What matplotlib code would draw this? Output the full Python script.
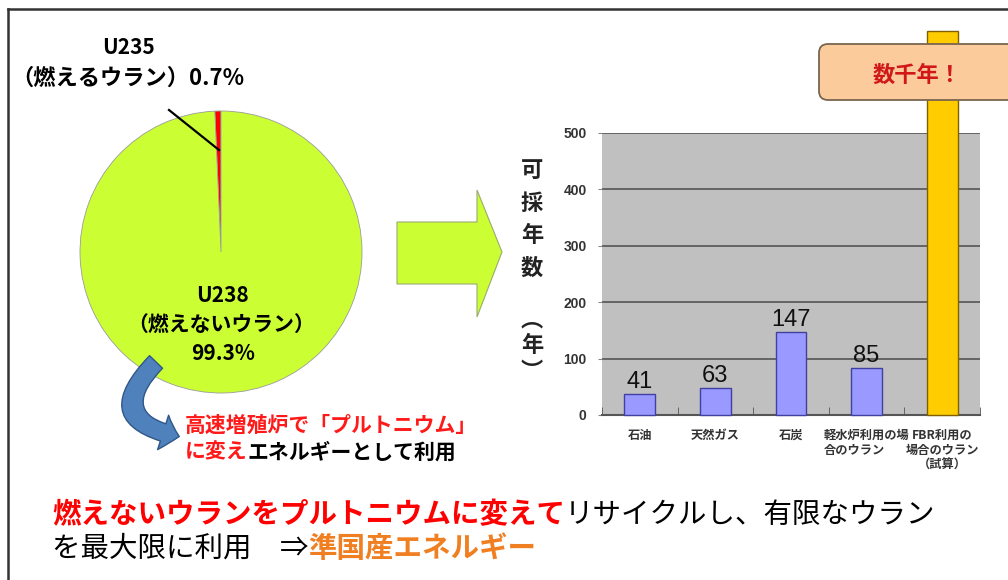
import matplotlib
matplotlib.use("Agg")
import matplotlib.pyplot as plt
from matplotlib.patches import FancyArrowPatch, FancyBboxPatch, Polygon
from matplotlib.lines import Line2D
from matplotlib.transforms import ScaledTranslation

plt.rcParams['font.family'] = ['Noto Sans CJK JP', 'DejaVu Sans']

# ---- data ----
pie_labels = ["U235", "U238"]
pie_shares = [0.7, 99.3]
pie_colors = ["#FF0000", "#CCFF33"]

categories = ["石油", "天然ガス", "石炭", "軽水炉利用の場\n合のウラン", "FBR利用の\n場合のウラン\n（試算）"]
bar_values = [37, 48, 147, 83, 680]          # heights as drawn in the picture
bar_labels = ["41", "63", "147", "85", ""]   # printed data labels
bar_colors = ["#9999FF", "#9999FF", "#9999FF", "#9999FF", "#FFCC00"]
yticks = [0, 100, 200, 300, 400, 500]

W, H = 1008, 580
fig = plt.figure(figsize=(W / 100, H / 100), dpi=100)
fig.patch.set_facecolor("white")

def rect(x0, y0, x1, y1):
    return [x0 / W, 1 - y1 / H, (x1 - x0) / W, (y1 - y0) / H]

# ---- pie ----
cx, cy, r = 221, 252, 141
ax_pie = fig.add_axes(rect(cx - r, cy - r, cx + r, cy + r))
ax_pie.pie(pie_shares, colors=pie_colors, startangle=90, counterclock=True,
           wedgeprops=dict(edgecolor="#9a9a9a", linewidth=0.6))
ax_pie.set_xlim(-1, 1)
ax_pie.set_ylim(-1, 1)
ax_pie.set_axis_off()

# ---- bar chart ----
ax = fig.add_axes(rect(602, 133, 980, 415))
ax.set_facecolor("#C0C0C0")
xs = list(range(len(categories)))
bars = ax.bar(xs, bar_values, width=0.41, color=bar_colors,
              edgecolor=["#4040A0"] * 4 + ["#806000"], linewidth=1.0, zorder=3)
for b in bars:
    b.set_clip_on(False)
for x, v, lab in zip(xs, bar_values, bar_labels):
    if lab:
        ax.text(x, v + 2, lab, ha="center", va="bottom", fontsize=17,
                family="Liberation Sans", color="#111111", zorder=4)
ax.set_xlim(-0.5, len(categories) - 0.5)
ax.set_ylim(0, 500)
ax.set_yticks(yticks)
ax.set_yticklabels([str(t) for t in yticks], fontsize=10, fontweight="bold",
                   color="#333333", family="Liberation Sans")
ax.yaxis.grid(True, color="#555555", linewidth=1.2, zorder=1)
ax.set_axisbelow(True)
ax.tick_params(axis="y", length=3, color="#888888", pad=8)
ax.set_xticks(xs)
ax.set_xticklabels(categories, fontsize=8.8, fontweight="bold", color="#333333",
                   linespacing=1.2)
xlabels = ax.get_xticklabels()
for lbl, ma in zip(xlabels, ["center", "center", "center", "left", "center"]):
    lbl.set_multialignment(ma)
xlabels[3].set_transform(xlabels[3].get_transform() + ScaledTranslation(0.03, 0, fig.dpi_scale_trans))
xlabels[4].set_transform(xlabels[4].get_transform() + ScaledTranslation(0.16, 0, fig.dpi_scale_trans))
ax.tick_params(axis="x", length=0, pad=10)
ax.set_xticks([i - 0.5 for i in range(len(categories) + 1)], minor=True)
ax.tick_params(axis="x", which="minor", direction="in", length=6, color="#555555")
for s in ["top", "right", "left"]:
    ax.spines[s].set_visible(False)
ax.spines["bottom"].set_color("#555555")
ax.spines["bottom"].set_linewidth(1.5)

# ---- overlay (pixel coordinates) ----
ov = fig.add_axes([0, 0, 1, 1])
ov.set_xlim(0, W)
ov.set_ylim(H, 0)
ov.set_axis_off()
ov.patch.set_alpha(0)

# frame
ov.add_line(Line2D([8, W], [9, 9], color="#333333", linewidth=1.8))
ov.add_line(Line2D([8, 8], [9, H], color="#333333", linewidth=1.8))

# pie labels
ov.text(128, 48, pie_labels[0], ha="center", va="center", fontsize=15, fontweight="bold")
ov.text(128, 78, "（燃えるウラン）0.7%", ha="center", va="center", fontsize=16, fontweight="bold")
ov.add_line(Line2D([169, 219], [110, 150], color="black", linewidth=1.6))
ov.text(223, 295, pie_labels[1], ha="center", va="center", fontsize=15, fontweight="bold")
ov.text(221, 325, "（燃えないウラン）", ha="center", va="center", fontsize=15, fontweight="bold")
ov.text(223, 354, "99.3%", ha="center", va="center", fontsize=15, fontweight="bold")

# blue curved arrow
ov.add_patch(FancyArrowPatch((158, 360), (182, 437),
                             connectionstyle="arc3,rad=0.95",
                             arrowstyle="simple,head_width=26,head_length=12,tail_width=13",
                             mutation_scale=1, facecolor="#4F81BD", edgecolor="#2F5686",
                             linewidth=1.0, zorder=5))

# annotation under pie
t1 = ov.text(185, 425, "高速増殖炉で「プルトニウム」", ha="left", va="center",
             fontsize=15, fontweight="bold", color="#FF1A1A")
t2 = ov.text(185, 452, "に変え", ha="left", va="center", fontsize=15,
             fontweight="bold", color="#FF1A1A")
ov.annotate("エネルギーとして利用", xy=(1, 0.5), xycoords=t2, va="center", ha="left",
            fontsize=15, fontweight="bold", color="black")

# green block arrow
ov.add_patch(Polygon([(397, 222), (477, 222), (477, 190), (502, 252), (477, 317),
                      (477, 284), (397, 284)], closed=True, facecolor="#CCFF33",
                     edgecolor="#9AAA70", linewidth=0.8))

# y axis title stacked vertically (vertical presentation forms for the brackets)
for ch, y in zip(["可", "採", "年", "数", "\uFE35", "年", "\uFE36"],
                 [170, 203, 236, 268, 320, 345, 372]):
    ov.text(532, y, ch, ha="center", va="center", fontsize=16, fontweight="bold",
            color="#222222")

# "数千年！" callout box
ov.add_patch(FancyBboxPatch((819, 44), 220, 56, boxstyle="round,pad=0,rounding_size=9",
                            facecolor="#FBCB9C", edgecolor="#7A6650", linewidth=1.3, zorder=6))
ov.text(917, 75, "数千年！", ha="center", va="center", fontsize=16, fontweight="bold",
        color="#D01818", zorder=7)

# bottom message
b1 = ov.text(52, 515, "燃えないウランをプルトニウムに変えて", ha="left", va="center",
             fontsize=20.5, fontweight="bold", color="#FF0000")
ov.annotate("リサイクルし、有限なウラン", xy=(1, 0.5), xycoords=b1, ha="left", va="center",
            fontsize=20.5, color="black")
b2 = ov.text(52, 549, "を最大限に利用　⇒", ha="left", va="center", fontsize=20.5, color="black")
ov.annotate("準国産エネルギー", xy=(1, 0.5), xycoords=b2, ha="left", va="center",
            fontsize=20.5, fontweight="bold", color="#F07F22")

fig.savefig("out.png", dpi=100)
